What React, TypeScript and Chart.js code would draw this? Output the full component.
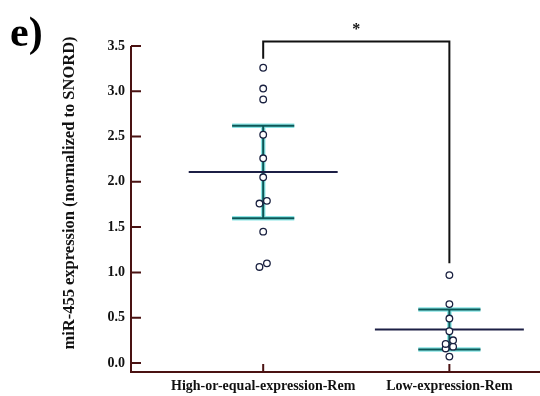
import { useEffect, useRef } from "react";
import { Chart, registerables } from "chart.js";

Chart.register(...registerables);

const categories = ["High-or-equal-expression-Rem", "Low-expression-Rem"];
const highValues = [3.26, 3.03, 2.91, 2.52, 2.26, 2.05, 1.79, 1.76, 1.45, 1.1, 1.06];
const lowValues = [0.97, 0.65, 0.49, 0.35, 0.25, 0.21, 0.18, 0.16, 0.07];
const yTicks = [0, 0.5, 1, 1.5, 2, 2.5, 3, 3.5];
const yTitle = "miR-455 expression (normalized to SNORD)";
const panelLabel = "e)";
const sigLabel = "*";
const sigBracketY = 3.55;
const tCritical: Record<number, number> = { 8: 2.306, 10: 2.228 };

const SERIF = "'Liberation Serif', 'Times New Roman', serif";

function stats(vals: number[]) {
  const n = vals.length;
  const mean = vals.reduce((a, b) => a + b, 0) / n;
  const sd = Math.sqrt(vals.reduce((a, b) => a + (b - mean) ** 2, 0) / (n - 1));
  const half = (tCritical[n - 1] ?? 2) * sd / Math.sqrt(n);
  return { mean, lo: mean - half, hi: mean + half, max: Math.max(...vals) };
}

function swarm(vals: number[], center: number) {
  const sorted = [...vals].sort((a, b) => a - b);
  const pts: { x: number; y: number }[] = [];
  let clusterIdx = 0;
  sorted.forEach((v, i) => {
    const close = i > 0 && v - sorted[i - 1] < 0.05;
    const nextClose = i < sorted.length - 1 && sorted[i + 1] - v < 0.05;
    if (!close) clusterIdx = 0;
    let off = 0;
    if (close || nextClose) {
      off = clusterIdx % 2 === 0 ? -0.02 : 0.02;
      clusterIdx++;
    }
    pts.push({ x: center + off, y: v });
  });
  return pts;
}

const groups = [stats(highValues), stats(lowValues)];

const decor = {
  id: "decor",
  beforeDatasetsDraw(chart: any) {
    const { ctx, scales } = chart;
    const x = scales.x, y = scales.y;
    ctx.save();
    groups.forEach((g, i) => {
      const cx = x.getPixelForValue(i + 1);
      const capHalf = x.getPixelForValue(i + 1 + 0.167) - cx;
      const meanHalf = x.getPixelForValue(i + 1 + 0.4) - cx;
      const yt = y.getPixelForValue(g.hi);
      const yb = y.getPixelForValue(g.lo);
      const ym = y.getPixelForValue(g.mean);
      const ciPath = () => {
        ctx.beginPath();
        ctx.moveTo(cx, yt);
        ctx.lineTo(cx, yb);
        ctx.moveTo(cx - capHalf, yt);
        ctx.lineTo(cx + capHalf, yt);
        ctx.moveTo(cx - capHalf, yb);
        ctx.lineTo(cx + capHalf, yb);
      };
      ctx.lineCap = "butt";
      ciPath();
      ctx.strokeStyle = "#8ae6e6";
      ctx.lineWidth = 4.5;
      ctx.stroke();
      ciPath();
      ctx.strokeStyle = "#0c5656";
      ctx.lineWidth = 2;
      ctx.stroke();
      ctx.beginPath();
      ctx.moveTo(cx - meanHalf, ym);
      ctx.lineTo(cx + meanHalf, ym);
      ctx.strokeStyle = "#1c1f45";
      ctx.lineWidth = 2;
      ctx.stroke();
    });
    // significance bracket
    const x1 = x.getPixelForValue(1);
    const x2 = x.getPixelForValue(2);
    const yb = y.getPixelForValue(sigBracketY);
    ctx.beginPath();
    ctx.moveTo(x1, y.getPixelForValue(groups[0].max + 0.1));
    ctx.lineTo(x1, yb);
    ctx.lineTo(x2, yb);
    ctx.lineTo(x2, y.getPixelForValue(groups[1].max + 0.13));
    ctx.strokeStyle = "#111111";
    ctx.lineWidth = 2;
    ctx.lineJoin = "miter";
    ctx.stroke();
    ctx.fillStyle = "#111";
    ctx.font = `bold 16px ${SERIF}`;
    ctx.textAlign = "center";
    ctx.textBaseline = "middle";
    ctx.fillText(sigLabel, (x1 + x2) / 2, yb - 12);
    ctx.restore();
  },
  afterDraw(chart: any) {
    const { ctx, chartArea, scales } = chart;
    const x = scales.x, y = scales.y;
    ctx.save();
    ctx.strokeStyle = "#4a1212";
    ctx.lineWidth = 2;
    ctx.beginPath();
    ctx.moveTo(chartArea.left, chartArea.top);
    ctx.lineTo(chartArea.left, chartArea.bottom);
    ctx.lineTo(chart.width, chartArea.bottom);
    yTicks.forEach((v) => {
      const py = y.getPixelForValue(v);
      ctx.moveTo(chartArea.left, py);
      ctx.lineTo(chartArea.left + 10, py);
    });
    categories.forEach((_, i) => {
      const px = x.getPixelForValue(i + 1);
      ctx.moveTo(px, chartArea.bottom);
      ctx.lineTo(px, chartArea.bottom - 8);
    });
    ctx.stroke();
    // y title
    ctx.fillStyle = "#111";
    ctx.translate(70, 193);
    ctx.rotate(-Math.PI / 2);
    ctx.font = `bold 16.5px ${SERIF}`;
    ctx.textAlign = "center";
    ctx.textBaseline = "middle";
    ctx.fillText(yTitle, 0, 0);
    ctx.restore();
    ctx.save();
    ctx.fillStyle = "#000";
    ctx.font = `bold 42px ${SERIF}`;
    ctx.textAlign = "left";
    ctx.textBaseline = "alphabetic";
    ctx.fillText(panelLabel, 10, 46);
    ctx.restore();
  },
};

export default function App() {
  const ref = useRef<HTMLCanvasElement>(null);
  useEffect(() => {
    if (!ref.current) return;
    const chart = new Chart(ref.current, {
      type: "scatter",
      data: {
        datasets: [
          { data: swarm(highValues, 1) },
          { data: swarm(lowValues, 2) },
        ].map((d) => ({
          ...d,
          pointRadius: 3.3,
          pointHoverRadius: 3.3,
          pointBackgroundColor: "#ffffff",
          pointBorderColor: "#1a2140",
          pointBorderWidth: 1.3,
        })),
      },
      options: {
        animation: false,
        responsive: false,
        layout: { padding: { top: 46, left: 0, right: 0, bottom: 0 } },
        plugins: { legend: { display: false }, tooltip: { enabled: false } },
        scales: {
          x: {
            type: "linear",
            min: 0.29,
            max: 2.462,
            grid: { display: false, drawTicks: false },
            border: { display: false },
            afterBuildTicks: (s: any) => {
              s.ticks = categories.map((_, i) => ({ value: i + 1 }));
            },
            afterFit: (s: any) => {
              s.height = 24;
            },
            ticks: {
              autoSkip: false,
              maxRotation: 0,
              padding: 6,
              color: "#111",
              font: { family: SERIF, size: 14, weight: "bold" },
              callback: (v: any) => categories[Math.round(v) - 1] ?? "",
            },
          },
          y: {
            min: -0.1,
            max: 3.5,
            grid: { display: false, drawTicks: false },
            border: { display: false },
            afterBuildTicks: (s: any) => {
              s.ticks = yTicks.map((v) => ({ value: v }));
            },
            afterFit: (s: any) => {
              s.width = 131;
            },
            ticks: {
              padding: 6,
              color: "#111",
              font: { family: SERIF, size: 14, weight: "bold" },
              callback: (v: any) => Number(v).toFixed(1),
            },
          },
        },
      },
      plugins: [decor],
    } as any);
    return () => chart.destroy();
  }, []);
  return (
    <div style={{ position: "absolute", left: 0, top: 0, width: 540, height: 396, background: "#fff" }}>
      <canvas ref={ref} width={540} height={396} />
    </div>
  );
}
